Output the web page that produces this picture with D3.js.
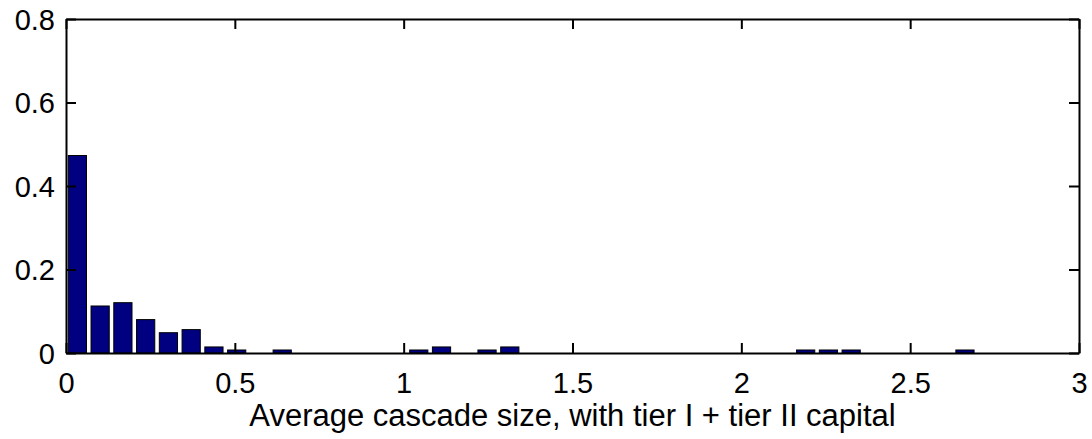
<!DOCTYPE html>
<html>
<head>
<meta charset="utf-8">
<script src="https://cdn.jsdelivr.net/npm/d3@7"></script>
<style>
  html,body{margin:0;padding:0;background:#fff}
  svg{display:block}
</style>
</head>
<body>
<div id="chart"></div>
<script>
// histogram of average cascade size (tier I + tier II capital), 40 bins
var binWidth = 0.0674;
var binIndex = [0,1,2,3,4,5,6,7,9,15,16,18,19,32,33,34,39];
var freq =     [0.473,0.1126,0.1205,0.080,0.0486,0.056,0.0145,0.0072,0.0072,0.0072,0.0145,0.0072,0.0145,0.0072,0.0072,0.0072,0.0072];
var xTicks = [0,0.5,1,1.5,2,2.5,3];
var yTicks = [0,0.2,0.4,0.6,0.8];
var xLabel = 'Average cascade size, with tier I + tier II capital';

var W=1092, H=439;
var m={left:66, right:13, top:19, bottom:86};
var F='Arial, "Liberation Sans", Helvetica, sans-serif';

var svg=d3.select('#chart').append('svg').attr('width',W).attr('height',H);
var x=d3.scaleLinear().domain([0,3]).range([m.left,W-m.right]);
var y=d3.scaleLinear().domain([0,0.8]).range([H-m.bottom,m.top]);

var data=binIndex.map(function(b,i){return {c:(b+0.5)*binWidth, v:freq[i]}});
var bw=x(binWidth*0.8)-x(0);

svg.append('g').selectAll('rect').data(data).enter().append('rect')
  .attr('x',function(d){return x(d.c)-bw/2})
  .attr('y',function(d){return y(d.v)})
  .attr('width',bw)
  .attr('height',function(d){return y(0)-y(d.v)})
  .attr('fill','#000080').attr('stroke','#000').attr('stroke-width',1);

var tl=10;
// box axes, MATLAB style: ticks point inward on all four sides
var xb=svg.append('g').attr('transform','translate(0,'+y(0)+')')
  .call(d3.axisBottom(x).tickValues(xTicks).tickSizeInner(-tl).tickSizeOuter(0).tickPadding(19).tickFormat(d3.format('')));
var xt=svg.append('g').attr('transform','translate(0,'+y(0.8)+')')
  .call(d3.axisTop(x).tickValues(xTicks).tickSizeInner(-tl).tickSizeOuter(0).tickFormat(''));
var yl=svg.append('g').attr('transform','translate('+x(0)+',0)')
  .call(d3.axisLeft(y).tickValues(yTicks).tickSizeInner(-tl).tickSizeOuter(0).tickPadding(11).tickFormat(d3.format('')));
var yr=svg.append('g').attr('transform','translate('+x(3)+',0)')
  .call(d3.axisRight(y).tickValues(yTicks).tickSizeInner(-tl).tickSizeOuter(0).tickFormat(''));

[xb,xt,yl,yr].forEach(function(g){
  g.select('.domain').attr('stroke','#000').attr('stroke-width',2);
  g.selectAll('.tick line').attr('stroke','#000').attr('stroke-width',2);
  g.selectAll('.tick text').attr('fill','#000').attr('font-size',29).attr('font-family',F);
});
xb.selectAll('.tick text').attr('dy','0.71em');
yl.selectAll('.tick text').attr('dy','0.36em');

svg.append('text').attr('x',(x(0)+x(3))/2).attr('y',426)
  .attr('text-anchor','middle').attr('font-size',31).attr('font-family',F).attr('fill','#000')
  .text(xLabel);
</script>
</body>
</html>
